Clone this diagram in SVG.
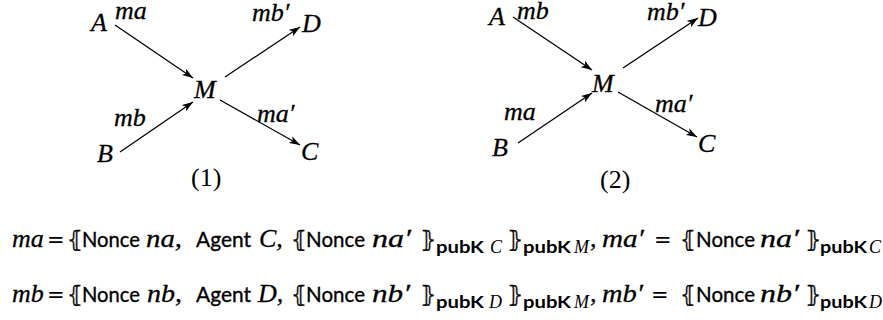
<svg xmlns="http://www.w3.org/2000/svg" width="883" height="320" viewBox="0 0 883 320">
<style>
.m{font-family:"Liberation Serif",serif;font-style:italic;font-size:26px;fill:#000;stroke:#000;stroke-width:0.3}
.r{font-family:"Liberation Serif",serif;font-size:26px;fill:#000}
.f{font-family:"Liberation Serif",serif;font-style:italic;font-size:26px;fill:#000;stroke:#000;stroke-width:0.3}
.s{font-family:Lato,"Liberation Sans",sans-serif;font-size:22px;fill:#000;stroke:#000;stroke-width:0.35}
.sb{font-family:Lato,"Liberation Sans",sans-serif;font-weight:bold;font-size:17px;fill:#000}
.fs{font-family:"Liberation Serif",serif;font-style:italic;font-size:18px;fill:#000}
.br{font-family:"DejaVu Sans",sans-serif;font-size:22px;fill:#000;stroke:#000;stroke-width:0.4}
.eq{font-family:"DejaVu Sans",sans-serif;font-size:21px;fill:#000}
.e{stroke:#000;stroke-width:1.3;fill:none;marker-end:url(#ah)}
</style>
<defs>
<marker id="ah" markerUnits="userSpaceOnUse" viewBox="0 0 10 7" refX="10" refY="3.5" markerWidth="11" markerHeight="7.7" orient="auto">
<path d="M0,0 L10,3.5 L0,7 L2.5,3.5 z" fill="#000"/>
</marker>
</defs>
<g id="connectors">
<line class="e" x1="115" y1="25" x2="193" y2="78"/>
<line class="e" x1="225" y1="77" x2="300" y2="27"/>
<line class="e" x1="120" y1="152" x2="193" y2="102"/>
<line class="e" x1="220" y1="100" x2="300" y2="145"/>
<line class="e" x1="513" y1="17" x2="592" y2="70"/>
<line class="e" x1="623" y1="68" x2="698" y2="18"/>
<line class="e" x1="518" y1="143" x2="592" y2="93"/>
<line class="e" x1="618" y1="92" x2="697" y2="137"/>
</g>
<g id="edge-labels">
<text class="m" x="115" y="19">ma</text>
<text class="m" x="252" y="21">mb′</text>
<text class="m" x="114" y="126">mb</text>
<text class="m" x="257" y="122">ma′</text>
<text class="m" x="517" y="19">mb</text>
<text class="m" x="647" y="20">mb′</text>
<text class="m" x="504" y="120">ma</text>
<text class="m" x="655" y="112">ma′</text>
</g>
<g id="node-A1"><text class="m" x="91" y="31">A</text></g>
<g id="node-M1"><text class="m" x="194" y="98">M</text></g>
<g id="node-D1"><text class="m" x="302" y="32">D</text></g>
<g id="node-B1"><text class="m" x="97" y="162">B</text></g>
<g id="node-C1"><text class="m" x="301" y="160">C</text></g>
<g id="caption1"><text class="r" x="191" y="186">(1)</text></g>
<g id="node-A2"><text class="m" x="489" y="25">A</text></g>
<g id="node-M2"><text class="m" x="592" y="92">M</text></g>
<g id="node-D2"><text class="m" x="698" y="26">D</text></g>
<g id="node-B2"><text class="m" x="492" y="156">B</text></g>
<g id="node-C2"><text class="m" x="698" y="152">C</text></g>
<g id="caption2"><text class="r" x="600" y="188">(2)</text></g>
<g id="formula-ma">
<text class="f" x="12" y="247">ma</text>
<text class="eq" x="47" y="247">=</text>
<text class="br" x="67" y="247">⦃</text>
<text class="s" x="82" y="247" textLength="58" lengthAdjust="spacingAndGlyphs">Nonce</text>
<text class="f" x="146" y="247" textLength="36" lengthAdjust="spacingAndGlyphs">na,</text>
<text class="s" x="196" y="247" textLength="55" lengthAdjust="spacingAndGlyphs">Agent</text>
<text class="f" x="259" y="247">C,</text>
<text class="br" x="291" y="247">⦃</text>
<text class="s" x="306" y="247" textLength="59" lengthAdjust="spacingAndGlyphs">Nonce</text>
<text class="f" x="372" y="247" textLength="39" lengthAdjust="spacingAndGlyphs">na′</text>
<text class="br" x="420" y="247">⦄</text>
<text class="sb" x="436" y="253" textLength="48" lengthAdjust="spacingAndGlyphs">pubK</text>
<text class="fs" x="490" y="253">C</text>
<text class="br" x="507" y="247">⦄</text>
<text class="sb" x="523" y="253" textLength="48" lengthAdjust="spacingAndGlyphs">pubK</text>
<text class="fs" x="574" y="253">M</text>
<text class="f" x="590" y="247">,</text>
<text class="f" x="602" y="247" textLength="42" lengthAdjust="spacingAndGlyphs">ma′</text>
<text class="eq" x="654" y="247">=</text>
<text class="br" x="680" y="247">⦃</text>
<text class="s" x="696" y="247" textLength="59" lengthAdjust="spacingAndGlyphs">Nonce</text>
<text class="f" x="760" y="247" textLength="39" lengthAdjust="spacingAndGlyphs">na′</text>
<text class="br" x="805" y="247">⦄</text>
<text class="sb" x="820" y="253" textLength="47" lengthAdjust="spacingAndGlyphs">pubK</text>
<text class="fs" x="869" y="253">C</text>
</g>
<g id="formula-mb">
<text class="f" x="12" y="302">mb</text>
<text class="eq" x="47" y="302">=</text>
<text class="br" x="67" y="302">⦃</text>
<text class="s" x="82" y="302" textLength="58" lengthAdjust="spacingAndGlyphs">Nonce</text>
<text class="f" x="147" y="302" textLength="35" lengthAdjust="spacingAndGlyphs">nb,</text>
<text class="s" x="196" y="302" textLength="55" lengthAdjust="spacingAndGlyphs">Agent</text>
<text class="f" x="258" y="302">D,</text>
<text class="br" x="291" y="302">⦃</text>
<text class="s" x="306" y="302" textLength="59" lengthAdjust="spacingAndGlyphs">Nonce</text>
<text class="f" x="372" y="302" textLength="38" lengthAdjust="spacingAndGlyphs">nb′</text>
<text class="br" x="420" y="302">⦄</text>
<text class="sb" x="436" y="308" textLength="48" lengthAdjust="spacingAndGlyphs">pubK</text>
<text class="fs" x="489" y="308">D</text>
<text class="br" x="507" y="302">⦄</text>
<text class="sb" x="523" y="308" textLength="48" lengthAdjust="spacingAndGlyphs">pubK</text>
<text class="fs" x="574" y="308">M</text>
<text class="f" x="590" y="302">,</text>
<text class="f" x="602" y="302" textLength="41" lengthAdjust="spacingAndGlyphs">mb′</text>
<text class="eq" x="651" y="302">=</text>
<text class="br" x="680" y="302">⦃</text>
<text class="s" x="696" y="302" textLength="59" lengthAdjust="spacingAndGlyphs">Nonce</text>
<text class="f" x="760" y="302" textLength="39" lengthAdjust="spacingAndGlyphs">nb′</text>
<text class="br" x="805" y="302">⦄</text>
<text class="sb" x="820" y="308" textLength="47" lengthAdjust="spacingAndGlyphs">pubK</text>
<text class="fs" x="869" y="308">D</text>
</g>
</svg>
